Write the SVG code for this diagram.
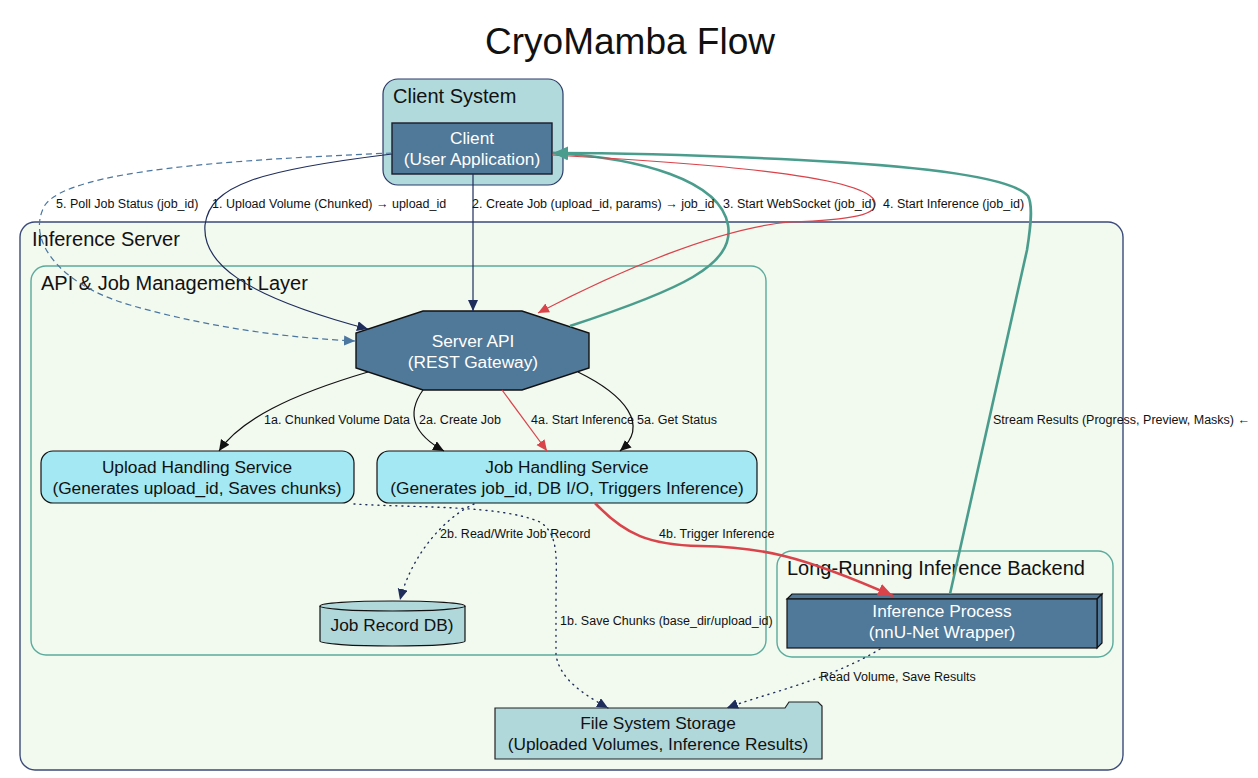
<svg xmlns="http://www.w3.org/2000/svg" width="1258" height="778" viewBox="0 0 1258 778">
<style>
text{font-family:"Liberation Sans",Arial,sans-serif;fill:#111}
.title{font-size:37px}
.cl{font-size:20px}
.nd{font-size:17.3px;text-anchor:middle}
.w{fill:#fff}
.el{font-size:12.5px}
.e{fill:none}
.navy{stroke:#1f2d5c;stroke-width:1.2}
.blk{stroke:#111;stroke-width:1.2}
.red{stroke:#d9434a;stroke-width:1.2}
.redT{stroke:#d9434a;stroke-width:2.6}
.grn{stroke:#4a9d8c;stroke-width:2.6}
.dash{stroke:#4a76a0;stroke-width:1.2;stroke-dasharray:6,4}
.dot{stroke:#1f2d5c;stroke-width:1.4;stroke-dasharray:1,5;stroke-linecap:round}
</style>
<defs>
<marker id="aNavy" markerUnits="userSpaceOnUse" markerWidth="14" markerHeight="12" refX="11" refY="5" orient="auto"><path d="M0,0 L11,5 L0,10 Z" fill="#1f2d5c"/></marker>
<marker id="aBlk" markerUnits="userSpaceOnUse" markerWidth="14" markerHeight="12" refX="11" refY="5" orient="auto"><path d="M0,0 L11,5 L0,10 Z" fill="#111"/></marker>
<marker id="aRed" markerUnits="userSpaceOnUse" markerWidth="14" markerHeight="12" refX="11" refY="5" orient="auto"><path d="M0,0 L11,5 L0,10 Z" fill="#d9434a"/></marker>
<marker id="aRedT" markerUnits="userSpaceOnUse" markerWidth="18" markerHeight="14" refX="15" refY="6.5" orient="auto"><path d="M0,0 L15,6.5 L0,13 Z" fill="#d9434a"/></marker>
<marker id="aGrn" markerUnits="userSpaceOnUse" markerWidth="18" markerHeight="14" refX="15" refY="6.5" orient="auto"><path d="M0,0 L15,6.5 L0,13 Z" fill="#4a9d8c"/></marker>
<marker id="aDash" markerUnits="userSpaceOnUse" markerWidth="14" markerHeight="12" refX="11" refY="5" orient="auto"><path d="M0,0 L11,5 L0,10 Z" fill="#4a76a0"/></marker>
</defs>
<rect width="1258" height="778" fill="#fff"/>
<text class="title" x="630" y="54" text-anchor="middle">CryoMamba Flow</text>

<g id="cluster-client-system">
<rect x="383" y="79" width="180" height="106" rx="15" fill="#b0dadb" stroke="#2c3a6a" stroke-width="1.2"/>
<text class="cl" x="393" y="103">Client System</text>
</g>
<g id="cluster-inference-server">
<rect x="20" y="222" width="1103" height="548" rx="15" fill="#f2f9ef" stroke="#3b4a7a" stroke-width="1.4"/>
<text class="cl" x="32" y="246">Inference Server</text>
</g>
<g id="cluster-api-layer">
<rect x="31" y="266" width="735" height="389" rx="15" fill="#f2f9ef" stroke="#5aab9c" stroke-width="1.4"/>
<text class="cl" x="41" y="290">API &amp; Job Management Layer</text>
</g>
<g id="cluster-backend">
<rect x="777" y="551" width="336" height="106" rx="15" fill="#f2f9ef" stroke="#5aab9c" stroke-width="1.4"/>
<text class="cl" x="787" y="575">Long-Running Inference Backend</text>
</g>

<g id="node-client">
<rect x="392" y="123" width="160" height="51" fill="#507898" stroke="#1b1b2a" stroke-width="1.4"/>
<text class="nd w" x="472" y="144">Client</text>
<text class="nd w" x="472" y="165">(User Application)</text>
</g>
<g id="node-server-api">
<polygon points="423,311 522,311 589,333 589,368 522,390 423,390 356,368 356,333" fill="#507898" stroke="#111" stroke-width="1.4"/>
<text class="nd w" x="473" y="347">Server API</text>
<text class="nd w" x="473" y="368">(REST Gateway)</text>
</g>
<g id="node-upload">
<rect x="41" y="451" width="313" height="52" rx="12" fill="#a3e8f2" stroke="#111" stroke-width="1.2"/>
<text class="nd" x="197" y="473">Upload Handling Service</text>
<text class="nd" x="197" y="494">(Generates upload_id, Saves chunks)</text>
</g>
<g id="node-job">
<rect x="377" y="451" width="380" height="52" rx="12" fill="#a3e8f2" stroke="#111" stroke-width="1.2"/>
<text class="nd" x="567" y="473">Job Handling Service</text>
<text class="nd" x="567" y="494">(Generates job_id, DB I/O, Triggers Inference)</text>
</g>
<g id="node-db">
<path d="M320,606 A72.5,5 0 0 1 465,606 L465,641 A72.5,5 0 0 1 320,641 Z" fill="#b0d8db" stroke="#111" stroke-width="1.2"/>
<path d="M320,606 A72.5,5 0 0 0 465,606" fill="none" stroke="#111" stroke-width="1.2"/>
<text class="nd" x="392" y="631">Job Record DB)</text>
</g>
<g id="node-inference">
<polygon points="787,599 792,594 1102,594 1097,599" fill="#507898" stroke="#111" stroke-width="1.2"/>
<polygon points="1097,599 1102,594 1102,643 1097,648" fill="#507898" stroke="#111" stroke-width="1.2"/>
<rect x="787" y="599" width="310" height="49" fill="#507898" stroke="#111" stroke-width="1.2"/>
<text class="nd w" x="942" y="617">Inference Process</text>
<text class="nd w" x="942" y="638">(nnU-Net Wrapper)</text>
</g>
<g id="node-storage">
<path d="M495,708 L785,708 L789,702 L818,702 L822,706 L822,759 L495,759 Z" fill="#b0d8db" stroke="#222" stroke-width="1.2"/>
<text class="nd" x="658" y="729">File System Storage</text>
<text class="nd" x="658" y="750">(Uploaded Volumes, Inference Results)</text>
</g>

<g id="connectors">
<path class="e dash" d="M392,153 C230,160 70,170 45,205 C25,240 60,285 130,305 C210,328 290,338 355,341" marker-end="url(#aDash)"/>
<path class="e navy" d="M392,154 C260,170 210,185 205,225 C202,262 240,295 368,329" marker-end="url(#aNavy)"/>
<path class="e navy" d="M473,174 L473,311" marker-end="url(#aNavy)"/>
<path class="e grn" d="M570,326 C680,290 735,265 728,225 C720,180 640,158 553,153" marker-end="url(#aGrn)"/>
<path class="e red" d="M552,155 C700,163 860,175 874,200 C882,215 850,220 790,222 C720,228 620,270 538,313" marker-end="url(#aRed)"/>
<path class="e grn" d="M950,594 L1027,250 C1031,225 1033,205 1028,196 C1010,175 900,165 800,160 C700,155 620,153 553,153" marker-end="url(#aGrn)"/>
<path class="e blk" d="M368,372 C290,395 240,420 219,451" marker-end="url(#aBlk)"/>
<path class="e blk" d="M423,390 C405,415 415,435 444,451" marker-end="url(#aBlk)"/>
<path class="e red" d="M502,390 L547,451" marker-end="url(#aRed)"/>
<path class="e blk" d="M578,372 C625,395 650,425 620,451" marker-end="url(#aBlk)"/>
<path class="e redT" d="M595,503 C625,535 650,545 700,546 C760,547 800,555 893,596" marker-end="url(#aRedT)"/>
<path class="e dot" d="M354,504 C420,508 500,505 540,522 C560,535 556,560 556,600 L556,655 C560,680 585,695 608,708" marker-end="url(#aNavy)"/>
<path class="e dot" d="M474,504 C440,520 410,560 400,600" marker-end="url(#aNavy)"/>
<path class="e dot" d="M880,649 C830,680 760,695 727,708" marker-end="url(#aNavy)"/>
<text class="el" x="56" y="208">5. Poll Job Status (job_id)</text>
<text class="el" x="212" y="208">1. Upload Volume (Chunked) → upload_id</text>
<text class="el" x="472" y="208">2. Create Job (upload_id, params) → job_id</text>
<text class="el" x="723" y="208">3. Start WebSocket (job_id)</text>
<text class="el" x="883" y="208">4. Start Inference (job_id)</text>
<text class="el" x="264" y="424">1a. Chunked Volume Data</text>
<text class="el" x="419" y="424">2a. Create Job</text>
<text class="el" x="531" y="424">4a. Start Inference</text>
<text class="el" x="637" y="424">5a. Get Status</text>
<text class="el" x="993" y="424">Stream Results (Progress, Preview, Masks) ←</text>
<text class="el" x="440" y="538">2b. Read/Write Job Record</text>
<text class="el" x="659" y="538">4b. Trigger Inference</text>
<text class="el" x="560" y="625">1b. Save Chunks (base_dir/upload_id)</text>
<text class="el" x="820" y="681">Read Volume, Save Results</text>
</g>
</svg>
